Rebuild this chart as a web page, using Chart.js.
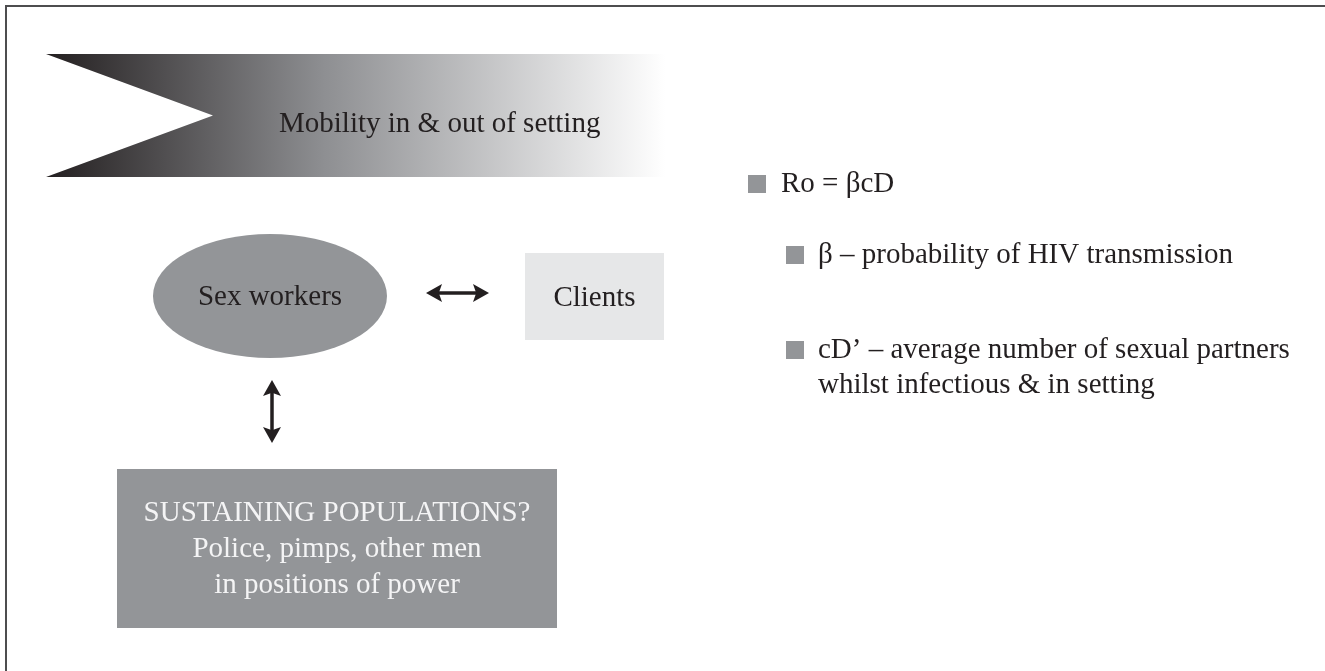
<!DOCTYPE html>
<html>
<head>
<meta charset="utf-8">
<script src="https://cdn.jsdelivr.net/npm/chart.js@4.4.1/dist/chart.umd.min.js"></script>
<style>
  html, body { margin: 0; padding: 0; background: #fff; }
  #wrap { width: 1325px; height: 671px; }
</style>
</head>
<body>
<div id="wrap"><canvas id="diagram" width="1325" height="671"></canvas></div>
<script>
// diagram text
const bannerLabel = 'Mobility in & out of setting';
const nodeLabels = ['Sex workers', 'Clients'];
const sustainLines = ['SUSTAINING POPULATIONS?', 'Police, pimps, other men', 'in positions of power'];
const formulaLabel = 'Ro = βcD';
const termLabels = [
    ['β – probability of HIV transmission'],
    ['cD’ – average number of sexual partners', 'whilst infectious & in setting']
];

// where things sit, in axis units (axes span the whole canvas)
const layout = {
    banner: { x0: 46, x1: 665, y0: 54, y1: 177, notch: 213, textX: 279, textY: 132 },
    ellipse: { cx: 270, cy: 296, rx: 117, ry: 62, textY: 305 },
    clients: { x0: 525, x1: 664, y0: 253, y1: 340, textY: 306 },
    hArrow: { x0: 426, x1: 489, y: 293 },
    vArrow: { x: 272, y0: 380, y1: 443 },
    sustain: { x0: 117, x1: 557, y0: 469, y1: 628, firstY: 521, step: 36 },
    formula: { sqX: 748, sqY: 175, textX: 781, textY: 192 },
    terms: { sqX: 786, textX: 818, firstY: [263, 358], step: 35 }
};

const FONT = '29px "Liberation Serif", "Times New Roman", serif';
const INK = '#231f20';
const GREY = '#939598';

function arrowHead(ctx, x, y, dx, dy) {
    // dx,dy: unit direction the head points to
    const len = 16, half = 9;
    ctx.beginPath();
    ctx.moveTo(x, y);
    ctx.lineTo(x - dx * len - dy * half, y - dy * len + dx * half);
    ctx.lineTo(x - dx * len * 0.8, y - dy * len * 0.8);
    ctx.lineTo(x - dx * len + dy * half, y - dy * len - dx * half);
    ctx.closePath();
    ctx.fill();
}

const diagramPlugin = {
    id: 'diagram',
    afterDatasetsDraw(chart) {
        const ctx = chart.ctx;
        const X = v => chart.scales.x.getPixelForValue(v);
        const Y = v => chart.scales.y.getPixelForValue(v);
        ctx.save();

        // frame (top and left edges only show)
        ctx.strokeStyle = '#4d4d4f';
        ctx.lineWidth = 2;
        ctx.beginPath();
        ctx.moveTo(X(6), Y(671));
        ctx.lineTo(X(6), Y(6));
        ctx.lineTo(X(1325), Y(6));
        ctx.stroke();

        // banner with notch, dark to white
        const b = layout.banner;
        const grad = ctx.createLinearGradient(X(b.x0), 0, X(b.x1), 0);
        grad.addColorStop(0, '#231f20');
        grad.addColorStop(0.45, '#8e8f92');
        grad.addColorStop(1, '#ffffff');
        ctx.fillStyle = grad;
        ctx.beginPath();
        ctx.moveTo(X(b.x0), Y(b.y0));
        ctx.lineTo(X(b.x1), Y(b.y0));
        ctx.lineTo(X(b.x1), Y(b.y1));
        ctx.lineTo(X(b.x0), Y(b.y1));
        ctx.lineTo(X(b.notch), Y((b.y0 + b.y1) / 2));
        ctx.closePath();
        ctx.fill();
        ctx.font = FONT;
        ctx.fillStyle = INK;
        ctx.textAlign = 'left';
        ctx.textBaseline = 'alphabetic';
        ctx.fillText(bannerLabel, X(b.textX), Y(b.textY));

        // sex workers ellipse
        const e = layout.ellipse;
        ctx.fillStyle = GREY;
        ctx.beginPath();
        ctx.ellipse(X(e.cx), Y(e.cy), X(e.cx + e.rx) - X(e.cx), Y(e.cy + e.ry) - Y(e.cy), 0, 0, Math.PI * 2);
        ctx.fill();
        ctx.fillStyle = INK;
        ctx.textAlign = 'center';
        ctx.fillText(nodeLabels[0], X(e.cx), Y(e.textY));

        // clients box
        const c = layout.clients;
        ctx.fillStyle = '#e6e7e8';
        ctx.fillRect(X(c.x0), Y(c.y0), X(c.x1) - X(c.x0), Y(c.y1) - Y(c.y0));
        ctx.fillStyle = INK;
        ctx.fillText(nodeLabels[1], X((c.x0 + c.x1) / 2), Y(c.textY));

        // double arrows
        ctx.fillStyle = INK;
        ctx.strokeStyle = INK;
        ctx.lineWidth = 3.5;
        const h = layout.hArrow;
        ctx.beginPath();
        ctx.moveTo(X(h.x0) + 10, Y(h.y));
        ctx.lineTo(X(h.x1) - 10, Y(h.y));
        ctx.stroke();
        arrowHead(ctx, X(h.x1), Y(h.y), 1, 0);
        arrowHead(ctx, X(h.x0), Y(h.y), -1, 0);
        const v = layout.vArrow;
        ctx.beginPath();
        ctx.moveTo(X(v.x), Y(v.y0) + 10);
        ctx.lineTo(X(v.x), Y(v.y1) - 10);
        ctx.stroke();
        arrowHead(ctx, X(v.x), Y(v.y0), 0, -1);
        arrowHead(ctx, X(v.x), Y(v.y1), 0, 1);

        // sustaining populations box
        const s = layout.sustain;
        ctx.fillStyle = GREY;
        ctx.fillRect(X(s.x0), Y(s.y0), X(s.x1) - X(s.x0), Y(s.y1) - Y(s.y0));
        ctx.fillStyle = '#f4f4f5';
        sustainLines.forEach((line, i) => {
            ctx.fillText(line, X((s.x0 + s.x1) / 2), Y(s.firstY + i * s.step));
        });

        // right-hand bullets
        ctx.textAlign = 'left';
        const f = layout.formula;
        ctx.fillStyle = GREY;
        ctx.fillRect(X(f.sqX), Y(f.sqY), 18, 18);
        ctx.fillStyle = INK;
        ctx.fillText(formulaLabel, X(f.textX), Y(f.textY));

        const t = layout.terms;
        termLabels.forEach((lines, i) => {
            const base = t.firstY[i];
            ctx.fillStyle = GREY;
            ctx.fillRect(X(t.sqX), Y(base - 17), 18, 18);
            ctx.fillStyle = INK;
            lines.forEach((line, j) => {
                ctx.fillText(line, X(t.textX), Y(base + j * t.step));
            });
        });

        ctx.restore();
    }
};

new Chart(document.getElementById('diagram'), {
    type: 'scatter',
    data: { datasets: [{ data: [], pointRadius: 0 }] },
    options: {
        responsive: false,
        animation: false,
        devicePixelRatio: 1,
        layout: { padding: 0 },
        plugins: { legend: { display: false }, tooltip: { enabled: false } },
        scales: {
            x: { type: 'linear', min: 0, max: 1325, display: false },
            y: { type: 'linear', min: 0, max: 671, reverse: true, display: false }
        }
    },
    plugins: [diagramPlugin]
});
</script>
</body>
</html>
